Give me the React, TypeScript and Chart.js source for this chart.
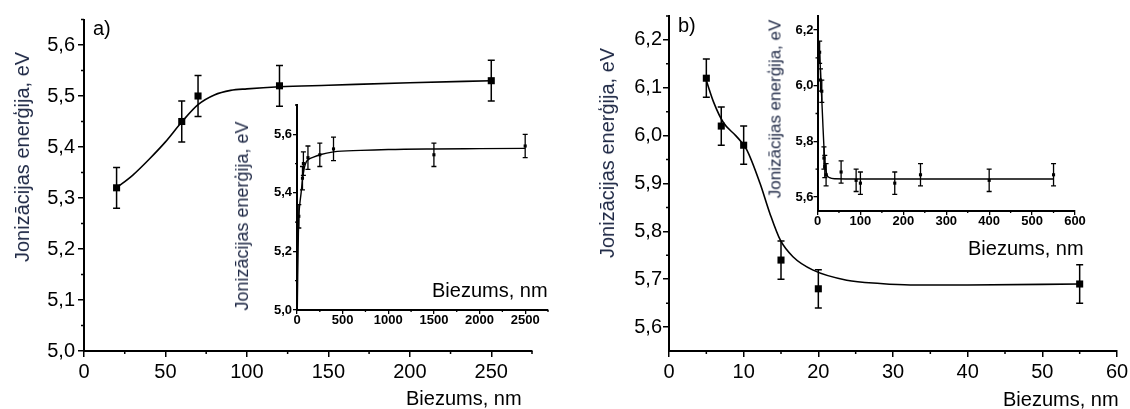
import React, { useEffect, useRef } from 'react';
import { Chart, registerables } from 'chart.js';

Chart.register(...registerables);

const FONT = "'Liberation Sans', Arial, sans-serif";
const TITLE_COLOR = '#1e2845';

// ---------- Panel a (main) ----------
const aThickness = [20, 60, 70, 120, 250];
const aEnergy = [5.32, 5.45, 5.5, 5.52, 5.53];
const aError = [0.04, 0.04, 0.04, 0.04, 0.04];
const aFitX = [20, 30, 40, 50, 60, 70, 80, 90, 100, 120, 150, 200, 250];
const aFitY = [5.32, 5.345, 5.376, 5.41, 5.449, 5.483, 5.502, 5.511, 5.514, 5.518, 5.521, 5.526, 5.53];
const aXTicks = [0, 50, 100, 150, 200, 250];
const aXMinor = [25, 75, 125, 175, 225, 275];
const aYTicks = [5.0, 5.1, 5.2, 5.3, 5.4, 5.5, 5.6];
const aYMinor = [5.05, 5.15, 5.25, 5.35, 5.45, 5.55, 5.65];

// ---------- Panel a (inset) ----------
const aiThickness = [20, 60, 70, 120, 250, 400, 1500, 2500];
const aiEnergy = [5.32, 5.45, 5.5, 5.52, 5.53, 5.55, 5.53, 5.56];
const aiError = [0.04, 0.04, 0.04, 0.04, 0.04, 0.04, 0.04, 0.04];
const aiFitX = [3, 8, 15, 20, 30, 45, 60, 80, 100, 130, 180, 250, 400, 700, 1000, 1500, 2000, 2500];
const aiFitY = [5.0, 5.12, 5.26, 5.32, 5.36, 5.4, 5.445, 5.485, 5.505, 5.515, 5.522, 5.53, 5.54, 5.545, 5.548, 5.55, 5.551, 5.552];
const aiXTicks = [0, 500, 1000, 1500, 2000, 2500];
const aiXMinor = [250, 750, 1250, 1750, 2250, 2750];
const aiYTicks = [5.0, 5.2, 5.4, 5.6];
const aiYMinor = [5.1, 5.3, 5.5, 5.7];

// ---------- Panel b (main) ----------
const bThickness = [5, 7, 10, 15, 20, 55];
const bEnergy = [6.12, 6.02, 5.98, 5.74, 5.68, 5.69];
const bError = [0.04, 0.04, 0.04, 0.04, 0.04, 0.04];
const bFitX = [5, 6, 7.3, 9, 10.4, 12.2, 13.5, 14.9, 16.6, 19.3, 23.8, 28.3, 32.3, 40, 55];
const bFitY = [6.115, 6.069, 6.027, 5.999, 5.971, 5.9, 5.838, 5.782, 5.747, 5.719, 5.698, 5.691, 5.688, 5.688, 5.69];
const bXTicks = [0, 10, 20, 30, 40, 50, 60];
const bXMinor = [5, 15, 25, 35, 45, 55];
const bYTicks = [5.6, 5.7, 5.8, 5.9, 6.0, 6.1, 6.2];
const bYMinor = [5.65, 5.75, 5.85, 5.95, 6.05, 6.15, 6.25];

// ---------- Panel b (inset) ----------
const biThickness = [5, 7, 10, 15, 17, 20, 55, 90, 100, 180, 240, 400, 550];
const biEnergy = [6.12, 6.02, 5.98, 5.74, 5.71, 5.68, 5.69, 5.66, 5.65, 5.65, 5.68, 5.66, 5.68];
const biError = [0.04, 0.04, 0.04, 0.04, 0.04, 0.04, 0.04, 0.04, 0.04, 0.04, 0.04, 0.04, 0.04];
const biFitX = [5, 7, 10, 12, 15, 18, 22, 28, 40, 100, 300, 550];
const biFitY = [6.12, 6.05, 5.95, 5.88, 5.78, 5.715, 5.68, 5.67, 5.666, 5.665, 5.665, 5.665];
const biXTicks = [0, 100, 200, 300, 400, 500, 600];
const biXMinor = [50, 150, 250, 350, 450, 550];
const biYTicks = [5.6, 5.8, 6.0, 6.2];
const biYMinor = [5.7, 5.9, 6.1];

const W = 1130;
const H = 409;

const decorPlugin = {
  id: 'decor',
  beforeDatasetsDraw(chart: any, _args: any, opts: any) {
    const ctx = chart.ctx;
    const xs = chart.scales.x;
    const ys = chart.scales.y;
    chart.data.datasets.forEach((ds: any) => {
      if (!ds.errors) return;
      ctx.save();
      ctx.strokeStyle = '#000';
      ctx.lineWidth = ds.errWidth;
      ds.data.forEach((p: any, i: number) => {
        const e = ds.errors[i];
        const px = xs.getPixelForValue(p.x);
        const y1 = ys.getPixelForValue(p.y + e);
        const y2 = ys.getPixelForValue(p.y - e);
        ctx.beginPath();
        ctx.moveTo(px, y1);
        ctx.lineTo(px, y2);
        ctx.moveTo(px - ds.capHalf, y1);
        ctx.lineTo(px + ds.capHalf, y1);
        ctx.moveTo(px - ds.capHalf, y2);
        ctx.lineTo(px + ds.capHalf, y2);
        ctx.stroke();
      });
      ctx.restore();
    });
  },
  afterDraw(chart: any, _args: any, opts: any) {
    const ctx = chart.ctx;
    const xs = chart.scales.x;
    const ys = chart.scales.y;
    const area = chart.chartArea;
    ctx.save();
    ctx.strokeStyle = '#000';
    ctx.lineWidth = opts.minorWidth || 1.5;
    ctx.beginPath();
    (opts.xMinor || []).forEach((v: number) => {
      const px = xs.getPixelForValue(v);
      ctx.moveTo(px, area.bottom);
      ctx.lineTo(px, area.bottom + opts.minorLen);
    });
    (opts.yMinor || []).forEach((v: number) => {
      const py = ys.getPixelForValue(v);
      ctx.moveTo(area.left, py);
      ctx.lineTo(area.left - opts.minorLen, py);
    });
    ctx.stroke();
    ctx.restore();
  },
};

type PanelSpec = {
  xs: number[]; ys: number[]; errs: number[];
  fitX: number[]; fitY: number[];
  xMin: number; xMax: number; yMin: number; yMax: number;
  xTicks: number[]; yTicks: number[]; xMinor: number[]; yMinor: number[];
  yDigits: number;
  area: { left: number; right: number; top: number; bottom: number };
  wy: number; hx: number;
  tickFont: any; tl: number; xPad: number; yPad: number; minorLen: number;
  pointR: number; cap: number; errW: number; lineW: number; tickW: number;
};

function buildConfig(p: PanelSpec): any {
  const padding = {
    left: p.area.left - p.wy,
    right: W - p.area.right,
    top: p.area.top,
    bottom: H - p.area.bottom - p.hx,
  };
  return {
    type: 'scatter',
    data: {
      datasets: [
        {
          data: p.fitX.map((x, i) => ({ x, y: p.fitY[i] })),
          showLine: true,
          pointRadius: 0,
          borderColor: '#000',
          borderWidth: p.lineW,
          cubicInterpolationMode: 'monotone',
          fill: false,
          clip: false,
        },
        {
          data: p.xs.map((x, i) => ({ x, y: p.ys[i] })),
          errors: p.errs,
          capHalf: p.cap,
          errWidth: p.errW,
          showLine: false,
          pointStyle: 'rect',
          pointRadius: p.pointR,
          backgroundColor: '#000',
          borderColor: '#000',
          borderWidth: 0,
          clip: false,
        },
      ],
    },
    options: {
      animation: false,
      responsive: false,
      devicePixelRatio: 1,
      events: [],
      layout: { padding },
      plugins: {
        legend: { display: false },
        tooltip: { enabled: false },
        decor: { xMinor: p.xMinor, yMinor: p.yMinor, minorLen: p.minorLen, minorWidth: p.tickW },
      },
      scales: {
        x: {
          type: 'linear',
          position: 'bottom',
          bounds: 'data',
          min: p.xMin,
          max: p.xMax,
          afterBuildTicks: (s: any) => {
            s.ticks = p.xTicks.map((v) => ({ value: v }));
          },
          afterFit: (s: any) => {
            s.height = p.hx;
            s.paddingLeft = 0;
            s.paddingRight = 0;
          },
          ticks: {
            callback: (v: any) => String(v),
            font: p.tickFont,
            color: '#000',
            padding: p.xPad,
            maxRotation: 0,
            minRotation: 0,
            autoSkip: false,
          },
          grid: {
            display: true,
            drawOnChartArea: false,
            drawTicks: true,
            tickLength: p.tl,
            color: '#000',
            lineWidth: p.tickW,
          },
          border: { display: true, color: '#000', width: 2 },
        },
        y: {
          type: 'linear',
          position: 'left',
          bounds: 'data',
          min: p.yMin,
          max: p.yMax,
          afterBuildTicks: (s: any) => {
            s.ticks = p.yTicks.map((v) => ({ value: v }));
          },
          afterFit: (s: any) => {
            s.width = p.wy;
            s.paddingTop = 0;
            s.paddingBottom = 0;
          },
          ticks: {
            callback: (v: any) => Number(v).toFixed(p.yDigits).replace('.', ','),
            font: p.tickFont,
            color: '#000',
            padding: p.yPad,
            autoSkip: false,
          },
          grid: {
            display: true,
            drawOnChartArea: false,
            drawTicks: true,
            tickLength: p.tl,
            color: '#000',
            lineWidth: p.tickW,
          },
          border: { display: true, color: '#000', width: 2 },
        },
      },
    },
    plugins: [decorPlugin],
  };
}

const mainFont = { family: FONT, size: 20, weight: 'normal', lineHeight: 1.2 };
const insetFont = { family: FONT, size: 13, weight: 'bold', lineHeight: 1 };

const panels: PanelSpec[] = [
  {
    xs: aThickness, ys: aEnergy, errs: aError, fitX: aFitX, fitY: aFitY,
    xMin: 0, xMax: 275, yMin: 5.0, yMax: 5.65,
    xTicks: aXTicks, yTicks: aYTicks, xMinor: aXMinor, yMinor: aYMinor, yDigits: 1,
    area: { left: 84, right: 532, top: 19.5, bottom: 351 },
    wy: 60, hx: 40, tickFont: mainFont, tl: 6, xPad: 3, yPad: 3, minorLen: 3,
    pointR: 5, cap: 3.5, errW: 1.5, lineW: 1.6, tickW: 1.5,
  },
  {
    xs: aiThickness, ys: aiEnergy, errs: aiError, fitX: aiFitX, fitY: aiFitY,
    xMin: 0, xMax: 2750, yMin: 5.0, yMax: 5.7,
    xTicks: aiXTicks, yTicks: aiYTicks, xMinor: aiXMinor, yMinor: aiYMinor, yDigits: 1,
    area: { left: 297, right: 548, top: 105, bottom: 310 },
    wy: 40, hx: 20, tickFont: insetFont, tl: 4, xPad: 0, yPad: 1, minorLen: 2,
    pointR: 2.2, cap: 2.5, errW: 1.3, lineW: 1.4, tickW: 1.3,
  },
  {
    xs: bThickness, ys: bEnergy, errs: bError, fitX: bFitX, fitY: bFitY,
    xMin: 0, xMax: 60, yMin: 5.55, yMax: 6.25,
    xTicks: bXTicks, yTicks: bYTicks, xMinor: bXMinor, yMinor: bYMinor, yDigits: 1,
    area: { left: 669, right: 1117, top: 16, bottom: 351 },
    wy: 60, hx: 40, tickFont: mainFont, tl: 6, xPad: 3, yPad: 1, minorLen: 3,
    pointR: 5, cap: 3.5, errW: 1.5, lineW: 1.6, tickW: 1.5,
  },
  {
    xs: biThickness, ys: biEnergy, errs: biError, fitX: biFitX, fitY: biFitY,
    xMin: 0, xMax: 600, yMin: 5.55, yMax: 6.25,
    xTicks: biXTicks, yTicks: biYTicks, xMinor: biXMinor, yMinor: biYMinor, yDigits: 1,
    area: { left: 817.5, right: 1075, top: 16, bottom: 211 },
    wy: 40, hx: 20, tickFont: insetFont, tl: 4, xPad: 0, yPad: 0, minorLen: 2,
    pointR: 2.2, cap: 2.5, errW: 1.3, lineW: 1.4, tickW: 1.3,
  },
];

function PanelCanvas({ spec }: { spec: PanelSpec }) {
  const ref = useRef<HTMLCanvasElement | null>(null);
  useEffect(() => {
    if (!ref.current) return;
    const chart = new Chart(ref.current, buildConfig(spec));
    return () => chart.destroy();
  }, [spec]);
  return (
    <canvas
      ref={ref}
      width={W}
      height={H}
      style={{ position: 'absolute', left: 0, top: 0, width: W, height: H }}
    />
  );
}

const textBase: React.CSSProperties = {
  position: 'absolute',
  fontFamily: FONT,
  whiteSpace: 'nowrap',
  lineHeight: 1,
  color: '#000',
};

function YTitle({ cx, cy, size, text }: { cx: number; cy: number; size: number; text: string }) {
  return (
    <div
      style={{
        ...textBase,
        left: cx,
        top: cy,
        fontSize: size,
        color: TITLE_COLOR,
        transform: 'translate(-50%, -50%) rotate(-90deg)',
      }}
    >
      {text}
    </div>
  );
}

function Label({ left, top, size, text }: { left: number; top: number; size: number; text: string }) {
  return <div style={{ ...textBase, left, top, fontSize: size }}>{text}</div>;
}

export default function App() {
  return (
    <div
      style={{
        position: 'fixed',
        left: 0,
        top: 0,
        width: W,
        height: H,
        background: '#fff',
        overflow: 'hidden',
      }}
    >
      {panels.map((p, i) => (
        <PanelCanvas key={i} spec={p} />
      ))}
      <YTitle cx={22} cy={157} size={20} text="Jonizācijas enerģija, eV" />
      <YTitle cx={607} cy={153} size={20} text="Jonizācijas enerģija, eV" />
      <YTitle cx={242} cy={216} size={18} text="Jonizācijas enerģija, eV" />
      <YTitle cx={775} cy={109} size={17} text="Jonizācijas enerģija, eV" />
      <Label left={406} top={388} size={20} text="Biezums, nm" />
      <Label left={1003} top={389} size={20} text="Biezums, nm" />
      <Label left={432} top={280} size={20} text="Biezums, nm" />
      <Label left={968} top={238} size={20} text="Biezums, nm" />
      <Label left={93} top={18} size={20} text="a)" />
      <Label left={678} top={15} size={20} text="b)" />
    </div>
  );
}
